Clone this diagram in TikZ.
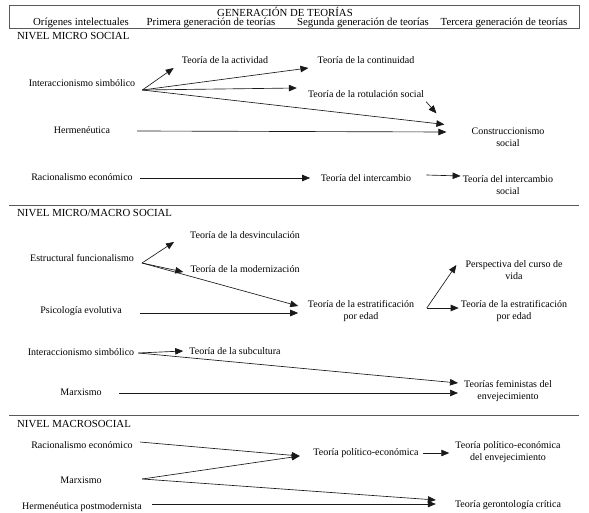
\documentclass[tikz,border=0pt]{standalone}
\usepackage{fontspec}
\setmainfont{Liberation Serif}
\usetikzlibrary{arrows.meta}
\begin{document}
\begin{tikzpicture}[x=1pt,y=-1pt,
  txt/.style={inner sep=2pt, font=\fontsize{10}{12}\selectfont, text height=7pt, text depth=2pt},
  two/.style={inner sep=2pt, font=\fontsize{10}{12}\selectfont, align=center},
  hdr/.style={inner sep=0pt, anchor=base, font=\fontsize{10.8}{13}\selectfont},
  lvl/.style={inner sep=0pt, anchor=west, font=\fontsize{10.8}{13}\selectfont},
  arr/.style={-{Triangle[length=8pt,width=6.5pt]}, line width=0.65pt, black!90},
  rule/.style={draw=black!65, line width=0.9pt}]
\useasboundingbox (0,0) rectangle (589,513);
\node[hdr] (title) at (285,17) {GENERACIÓN DE TEORÍAS};
\foreach \x/\t [count=\i] in {81/Orígenes intelectuales, 211/Primera generación de teorías,
  363/Segunda generación de teorías, 504/Tercera generación de teorías}
  \node[hdr] (h\i) at (\x,25.5) {\t};
\draw[rule] (9,5) rectangle (579,28.5);
\node[lvl] (micro) at (17,36.5) {NIVEL MICRO SOCIAL};
\draw[rule] (9,205) -- (579,205);
\node[lvl] (mima) at (17,213) {NIVEL MICRO/MACRO SOCIAL};
\draw[rule] (9,415) -- (579,415);
\node[lvl] (macro) at (17,424) {NIVEL MACROSOCIAL};

\node[txt] (is1) at (82,84) {Interaccionismo simbólico};
\node[txt] (act) at (225,61) {Teoría de la actividad};
\node[txt] (cont) at (366,61) {Teoría de la continuidad};
\node[txt] (rot) at (366,95) {Teoría de la rotulación social};
\node[two] (cs) at (508,137) {Construccionismo\\social};
\node[txt] (herm) at (82,131) {Hermenéutica};
\node[txt] (rac1) at (82,178) {Racionalismo económico};
\node[txt] (inter) at (366,179) {Teoría del intercambio};
\node[two] (intsoc) at (508,185) {Teoría del intercambio\\social};
\draw[arr] ([shift={(5,6)}]is1.east) -- ([shift={(-6,7)}]act.west);
\draw[arr] ([shift={(5,6)}]is1.east) -- ([shift={(-7,7)}]cont.west);
\draw[arr] ([shift={(5,6)}]is1.east) -- ([shift={(-9,-7)}]rot.west);
\draw[arr] ([shift={(5,6)}]is1.east) -- ([shift={(-25,-1)}]cs.north west);
\draw[arr] (rot.south east) -- ([shift={(-33,-12)}]cs.north west);
\draw[arr] ([xshift=25]herm.east) -- ([shift={(-23,-5)}]cs.west);
\draw[arr] ([xshift=5]rac1.east) -- ([shift={(-8.5,-1)}]inter.west);
\draw[arr] ([shift={(13,-4)}]inter.east) -- ([shift={(0,-9)}]intsoc.west);

\node[txt] (ef) at (82,259) {Estructural funcionalismo};
\node[txt] (desv) at (245,236) {Teoría de la desvinculación};
\node[txt] (mod) at (245,270) {Teoría de la modernización};
\node[txt] (pe) at (81,311) {Psicología evolutiva};
\node[two] (est1) at (361,311.5) {Teoría de la estratificación\\por edad};
\node[two] (pcv) at (514,270.5) {Perspectiva del curso de\\vida};
\node[two] (est2) at (514,311) {Teoría de la estratificación\\por edad};
\node[txt] (is2) at (81,353) {Interaccionismo simbólico};
\node[txt] (sub) at (235,352) {Teoría de la subcultura};
\node[txt] (marx1) at (81,393) {Marxismo};
\node[two] (fem) at (508,391.5) {Teorías feministas del\\envejecimiento};
\draw[arr] ([shift={(6,4)}]ef.east) -- ([shift={(-14,6)}]desv.west);
\draw[arr] ([shift={(6,4)}]ef.east) -- ([shift={(-5,2)}]mod.west);
\draw[arr] ([shift={(6,4)}]ef.east) -- ([shift={(-7.5,-5.5)}]est1.west);
\draw[arr] ([shift={(16.5,2)}]pe.east) -- ([shift={(-7.5,1.5)}]est1.west);
\draw[arr] ([shift={(10.5,-3.5)}]est1.east) -- ([shift={(-7,-5.5)}]pcv.west);
\draw[arr] ([shift={(10.5,-3.5)}]est1.east) -- ([shift={(0,-3)}]est2.west);
\draw[arr] ([xshift=2]is2.east) -- ([shift={(-4,-1)}]sub.west);
\draw[arr] ([xshift=2]is2.east) -- ([shift={(-4,-8.5)}]fem.west);
\draw[arr] ([xshift=15.5]marx1.east) -- ([shift={(-4,1.5)}]fem.west);

\node[txt] (rac2) at (82,446) {Racionalismo económico};
\node[txt] (tpe) at (366,453) {Teoría político-económica};
\node[two] (tpee) at (508,452) {Teoría político-económica\\del envejecimiento};
\node[txt] (marx2) at (81,481) {Marxismo};
\node[txt] (hp) at (82,507) {Hermenéutica postmodernista};
\node[txt] (gc) at (508,505) {Teoría gerontología crítica};
\draw[arr] ([shift={(5,-4)}]rac2.east) -- ([shift={(-11.5,3)}]tpe.west);
\draw[arr] ([shift={(38.5,-2)}]marx2.east) -- ([shift={(-11.5,3)}]tpe.west);
\draw[arr] ([xshift=2.5]tpe.east) -- ([shift={(-4,1)}]tpee.west);
\draw[arr] ([shift={(38.5,-2)}]marx2.east) -- ([shift={(-17,-5)}]gc.west);
\draw[arr] ([shift={(8,-3)}]hp.east) -- ([shift={(-17,-1)}]gc.west);
\end{tikzpicture}
\end{document}
